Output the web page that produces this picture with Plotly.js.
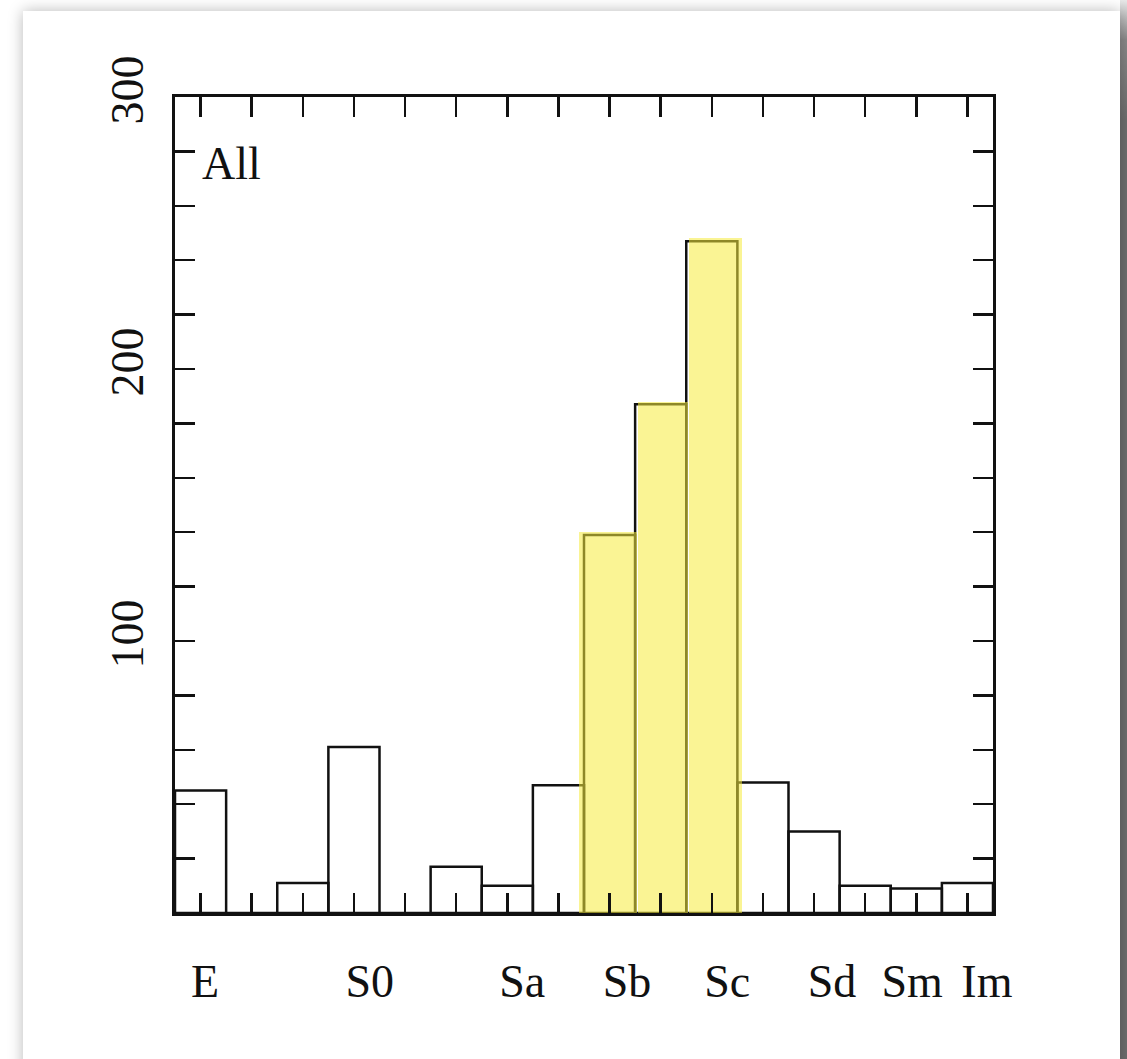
<!DOCTYPE html>
<html>
<head>
<meta charset="utf-8">
<script src="https://cdn.plot.ly/plotly-3.0.1.min.js"></script>
<style>
  html, body { margin: 0; padding: 0; background: #ffffff; overflow: hidden; }
  #strip { position: absolute; left: 1120px; top: 0; width: 7px; height: 1059px;
           background: linear-gradient(to bottom, #e8e8e8 0px, #8a8a8a 40px, #6e6e6e 120px, #6e6e6e 100%); }
  #card { position: absolute; left: 23px; top: 11px; width: 1097px; height: 1100px;
          background: #fff; box-shadow: 0 0 14px rgba(0,0,0,0.28); }
  #chart { position: absolute; left: 0; top: 0; width: 1127px; height: 1059px; }
</style>
</head>
<body>
<div id="strip"></div>
<div id="card"></div>
<div id="chart"></div>
<script>
// Counts per bin (16 bins of morphological type)
var binCounts = [45, 0, 11, 61, 0, 17, 10, 47, 139, 187, 247, 48, 30, 10, 9, 11];
// Highlighted bins (indices)
var highlightBins = [8, 9, 10];
// Type labels and their positions along the bin axis
var typeLabels = ['E', 'S0', 'Sa', 'Sb', 'Sc', 'Sd', 'Sm', 'Im'];
var typeLabelPos = [0.59, 3.81, 6.79, 8.84, 10.80, 12.85, 14.42, 15.88];
var panelLabel = 'All';

var FONT = 'Liberation Serif, Times New Roman, serif';
var INK = '#111111';

var centers = binCounts.map(function (_, i) { return i + 0.5; });

var outline = {
  type: 'bar', x: centers, y: binCounts, width: 1,
  marker: { color: 'rgba(255,255,255,0)', line: { color: INK, width: 2.5 } },
  hoverinfo: 'x+y', showlegend: false, xaxis: 'x', yaxis: 'y'
};

// yellow highlight overlay (drawn on top of the outlined bars)
var hx = [], hy = [], hw = [];
highlightBins.forEach(function (b, k) {
  var first = k === 0, last = k === highlightBins.length - 1;
  var left = b + (first ? -0.1 : 0.05);
  var right = b + 1 + (last ? 0.1 : 0.03);
  hx.push((left + right) / 2); hw.push(right - left); hy.push(binCounts[b] + 1);
});
var highlight = {
  type: 'bar', x: hx, y: hy, width: hw,
  marker: { color: 'rgba(245,235,60,0.55)', line: { width: 0 } },
  hoverinfo: 'skip', showlegend: false, xaxis: 'x', yaxis: 'y'
};

// invisible trace to activate the label axis
var labelCarrier = {
  type: 'scatter', x: typeLabelPos, y: typeLabelPos.map(function () { return 0; }),
  mode: 'markers', marker: { opacity: 0 }, hoverinfo: 'skip', showlegend: false,
  xaxis: 'x2', yaxis: 'y'
};

var layout = {
  width: 1127, height: 1059,
  margin: { l: 175, r: 134, t: 97, b: 146 },
  paper_bgcolor: 'rgba(0,0,0,0)', plot_bgcolor: 'rgba(0,0,0,0)',
  barmode: 'overlay', bargap: 0,
  font: { family: FONT, color: INK, size: 46 },
  xaxis: {
    range: [0, 16], tickvals: centers, showticklabels: false,
    ticks: 'inside', ticklen: 20, tickwidth: 2.5, tickcolor: INK,
    showline: true, linewidth: 3, linecolor: INK, mirror: 'allticks',
    showgrid: false, zeroline: false, fixedrange: true
  },
  xaxis2: {
    overlaying: 'x', side: 'bottom', anchor: 'y', range: [0, 16],
    tickvals: typeLabelPos, ticktext: typeLabels, ticks: '',
    showline: false, showgrid: false, zeroline: false,
    ticklabelstandoff: 37, tickfont: { family: FONT, size: 46, color: INK }
  },
  yaxis: {
    range: [0, 300], tickvals: [0, 100, 200, 300], ticktext: ['', '100', '200', '300'],
    ticks: 'inside', ticklen: 20, tickwidth: 2.5, tickcolor: INK,
    minor: { dtick: 20, ticks: 'inside', ticklen: 12, tickwidth: 2.5, tickcolor: INK, showgrid: false },
    tickangle: -90, ticklabelstandoff: 11,
    tickfont: { family: FONT, size: 46, color: INK },
    showline: true, linewidth: 3, linecolor: INK, mirror: 'allticks',
    showgrid: false, zeroline: false, fixedrange: true
  },
  annotations: [{
    text: panelLabel, xref: 'paper', yref: 'paper', x: 0.031, y: 0.918,
    xanchor: 'left', yanchor: 'middle', showarrow: false,
    font: { family: FONT, size: 46, color: INK }
  }]
};

Plotly.newPlot('chart', [outline, highlight, labelCarrier], layout, { displayModeBar: false, staticPlot: true });
</script>
</body>
</html>
